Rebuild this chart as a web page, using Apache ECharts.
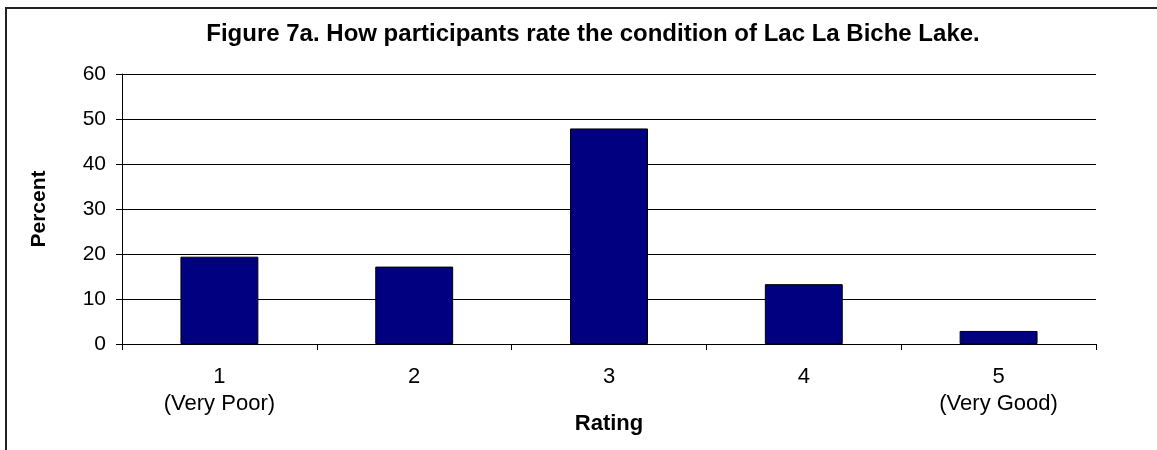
<!DOCTYPE html>
<html>
<head>
<meta charset="utf-8">
<script src="https://cdn.jsdelivr.net/npm/echarts@6/dist/echarts.min.js"></script>
<style>
    html, body { margin: 0; padding: 0; background: #fff; }
    #rating_chart { width: 1157px; height: 450px; }
</style>
</head>
<body>
<div id="rating_chart"></div>
<script>
// Chart data
var categories = ['1\n(Very Poor)', '2', '3', '4', '5\n(Very Good)'];
var percentValues = [19.4, 17.2, 47.9, 13.3, 2.9];
var yTicks = { min: 0, max: 60, interval: 10 };

var FONT = 'Arial, "Liberation Sans", sans-serif';

document.addEventListener('DOMContentLoaded', function() {
    var rating_chart_element = document.getElementById('rating_chart');
    var rating_chart = echarts.init(rating_chart_element);

    rating_chart.setOption({
        animation: false,
        textStyle: { fontFamily: FONT },

        // Outer frame (only top and left edges fall inside the picture)
        graphic: [{
            type: 'rect',
            shape: { x: 6, y: 8, width: 1200, height: 500 },
            style: { fill: 'none', stroke: '#222', lineWidth: 2 },
            silent: true
        }],

        title: {
            text: 'Figure 7a. How participants rate the condition of Lac La Biche Lake.',
            left: 588,
            textAlign: 'center',
            top: 17,
            textStyle: {
                fontFamily: FONT,
                fontSize: 24,
                fontWeight: 'bold',
                color: '#000'
            }
        },

        // Setup grid
        grid: {
            left: 122,
            right: 61,
            top: 74,
            bottom: 106,
            containLabel: false
        },

        // Horizontal axis
        xAxis: {
            type: 'category',
            data: categories,
            boundaryGap: true,
            name: 'Rating',
            nameLocation: 'middle',
            nameGap: 69,
            nameMoveOverlap: false,
            nameTextStyle: {
                fontFamily: FONT,
                fontSize: 22,
                fontWeight: 'bold',
                color: '#000'
            },
            axisLine: { lineStyle: { color: '#000', width: 1 } },
            axisTick: { show: true, alignWithLabel: false, length: 6, lineStyle: { color: '#000' } },
            axisLabel: {
                fontFamily: FONT,
                fontSize: 22,
                color: '#000',
                margin: 19,
                lineHeight: 27,
                interval: 0
            }
        },

        // Vertical axis
        yAxis: {
            type: 'value',
            min: yTicks.min,
            max: yTicks.max,
            interval: yTicks.interval,
            name: 'Percent',
            nameLocation: 'middle',
            nameGap: 72,
            nameMoveOverlap: false,
            nameTextStyle: {
                fontFamily: FONT,
                fontSize: 21,
                fontWeight: 'bold',
                color: '#000'
            },
            axisLine: { show: true, lineStyle: { color: '#000', width: 1 } },
            axisTick: { show: true, length: 6, lineStyle: { color: '#000' } },
            axisLabel: {
                fontFamily: FONT,
                fontSize: 21,
                color: '#000',
                margin: 16
            },
            splitLine: { show: true, lineStyle: { color: '#000', width: 1 } }
        },

        // Add series
        series: [{
            name: 'Percent',
            type: 'bar',
            data: percentValues,
            barCategoryGap: '60%',
            itemStyle: {
                color: '#000080',
                borderColor: '#000',
                borderWidth: 1
            }
        }]
    });
});
</script>
</body>
</html>
